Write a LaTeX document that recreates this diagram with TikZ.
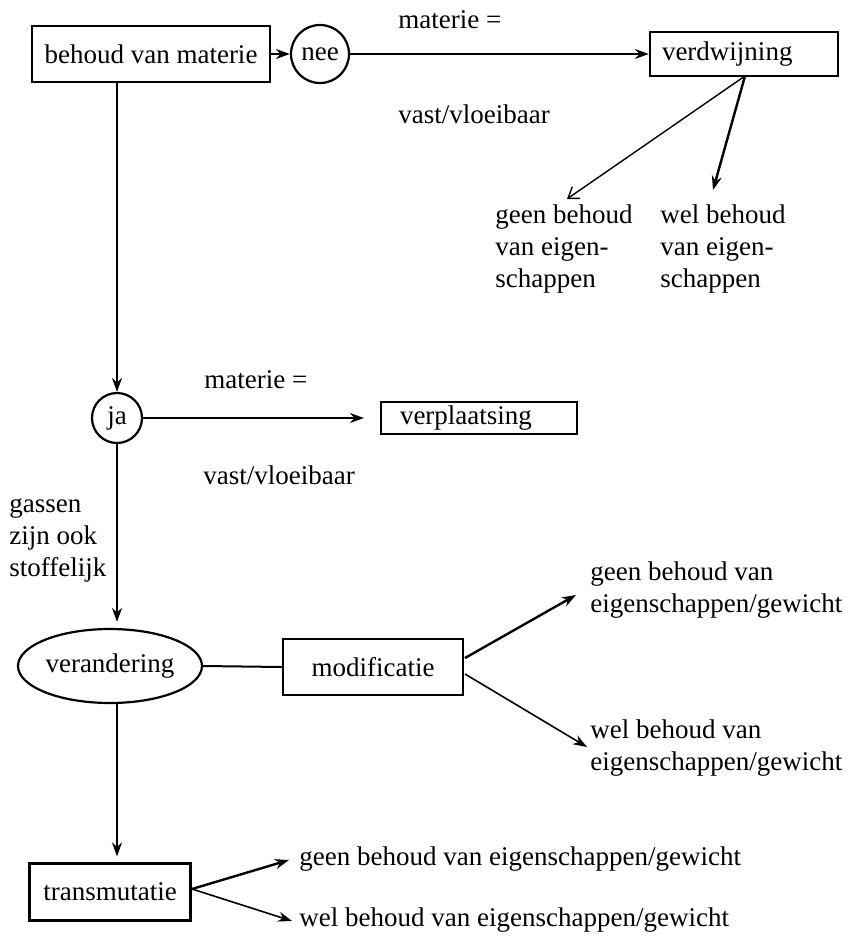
\documentclass[tikz,border=0pt]{standalone}
\usepackage{fontspec}
\setmainfont{Liberation Serif}
\usetikzlibrary{shapes.geometric,arrows.meta}
\begin{document}
\begin{tikzpicture}[x=0.5pt,y=-0.5pt,
  every node/.style={font=\fontsize{13.5pt}{16pt}\selectfont},
  box/.style={draw,line width=1.1pt,rectangle,inner sep=0pt},
  circ/.style={draw,line width=1.1pt,circle,inner sep=0pt},
  txt/.style={anchor=west,align=left,inner sep=0pt},
  conn/.style={line width=1pt},
  arr/.style={conn,-{Stealth[length=7pt,width=5pt]}},
  barb/.style={line width=0.7pt,-{Straight Barb[length=5pt,width=7pt]}}]
\useasboundingbox (0,0) rectangle (847,937);
% nodes
\node[box,minimum width=119pt,minimum height=28pt] (behoud) at (151,54) {behoud van materie};
\node[circ,minimum size=29pt] (nee) at (320,54) {nee};
\node[box,minimum width=94pt,minimum height=22pt,text width=82pt,align=left] (vd) at (744,54) {verdwijning};
\node[txt] (mat1) at (398,20) {materie =};
\node[txt] (vast1) at (398,114) {vast/vloeibaar};
\node[txt] (geen1) at (495,249) {geen behoud\\van eigen-\\schappen};
\node[txt] (wel1) at (660,249) {wel behoud\\van eigen-\\schappen};
\node[circ,minimum size=25pt] (ja) at (117,418) {ja};
\node[box,minimum width=98pt,minimum height=16pt,text width=79pt,align=left] (vp) at (479,418) {verplaatsing};
\node[txt] (mat2) at (204,380) {materie =};
\node[txt] (vast2) at (203,475) {vast/vloeibaar};
\node[txt] (gas) at (9,540) {gassen\\zijn ook\\stoffelijk};
\node[draw,line width=1.1pt,ellipse,inner sep=0pt,minimum width=92pt,minimum height=37pt] (ell) at (110,666) {verandering};
\node[box,minimum width=90pt,minimum height=28pt] (mod) at (373,667) {modificatie};
\node[txt] (geen2) at (590,590) {geen behoud van\\eigenschappen/gewicht};
\node[txt] (wel2) at (590,748) {wel behoud van\\eigenschappen/gewicht};
\node[box,minimum width=80.5pt,minimum height=28.5pt] (tr) at (110,892) {transmutatie};
\node[txt] (geen3) at (299,859) {geen behoud van eigenschappen/gewicht};
\node[txt] (wel3) at (299,920) {wel behoud van eigenschappen/gewicht};
% free ends
\coordinate (vdo) at (745,76);
\coordinate (t1) at (567,199);
\coordinate (t2) at (713,190);
\coordinate (m1) at (465,658);
\coordinate (m2) at (465,674);
\coordinate (t3) at (576,595);
\coordinate (t4) at (587,747);
\coordinate (tro) at (192,889);
\coordinate (t5) at (289,860);
\coordinate (t6) at (292,921);
% connectors
\draw[arr] (behoud.east) -- (nee.west);
\draw[arr] (nee.east) -- (vd.west);
\draw[barb] (vdo) -- (t1);
\draw[arr,line width=1.2pt] (vdo) -- (t2);
\draw[arr] (ja.north |- behoud.south) -- (ja.north);
\draw[arr,shorten >=8pt] (ja.east) -- (vp.west);
\draw[arr,shorten >=3pt] (ja.south) -- (ja.south |- ell.north);
\draw[conn] (ell.east) -- (mod.west);
\draw[arr,line width=1.2pt] (m1) -- (t3);
\draw[arr,line width=0.8pt] (m2) -- (t4);
\draw[arr,shorten >=3pt] (ja.south |- ell.south) -- (ja.south |- tr.north);
\draw[arr,line width=1.2pt] (tro) -- (t5);
\draw[arr,line width=0.8pt] (tro) -- (t6);
\end{tikzpicture}
\end{document}
